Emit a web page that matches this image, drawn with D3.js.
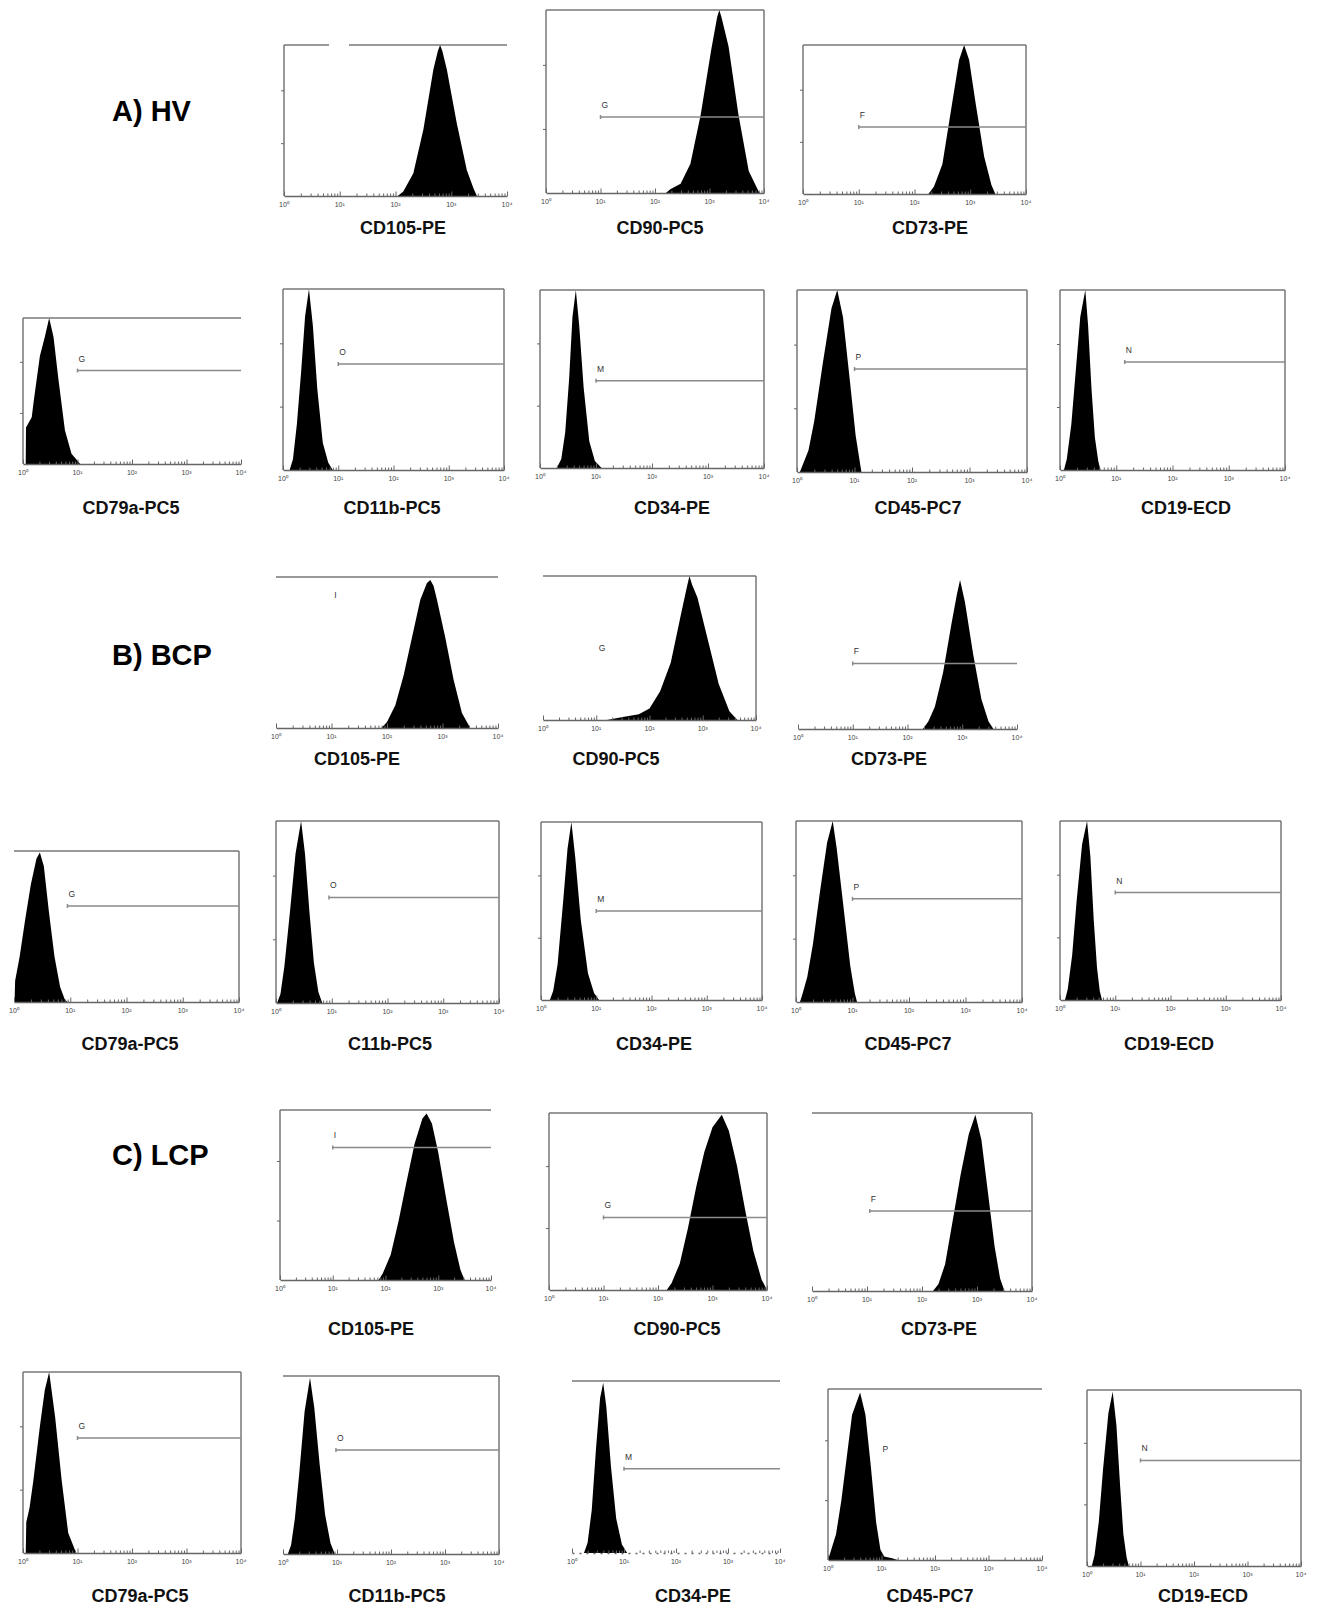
<!DOCTYPE html>
<html lang="en">
<head>
<meta charset="UTF-8">
<title>MSC immunophenotype histograms</title>
<script src="https://d3js.org/d3.v7.min.js"></script>
<style>
  body { margin: 0; background: #fff; }
  svg { display: block; }
  text { font-family: "Liberation Sans", Arial, sans-serif; }
  .title { font-size: 18px; font-weight: bold; fill: #111; }
  .group { font-size: 29px; font-weight: bold; fill: #000; }
  .tick-label { font-size: 7px; fill: #444; }
  .gate-label { font-size: 8.5px; fill: #333; }
  .frame { stroke: #777; stroke-width: 1.5; fill: none; }
  .gate { stroke: #8a8a8a; stroke-width: 1.5; }
  .hist { fill: #000; }
  .axis path, .axis line { stroke: #666; }
</style>
</head>
<body>
<svg width="1317" height="1608"></svg>
<script>
// ---- data ----
const groups = ["A) HV", "B) BCP", "C) LCP"];

const markers = [
  "CD105-PE", "CD90-PC5", "CD73-PE",
  "CD79a-PC5", "CD11b-PC5", "CD34-PE", "CD45-PC7", "CD19-ECD",
  "CD105-PE", "CD90-PC5", "CD73-PE",
  "CD79a-PC5", "C11b-PC5", "CD34-PE", "CD45-PC7", "CD19-ECD",
  "CD105-PE", "CD90-PC5", "CD73-PE",
  "CD79a-PC5", "CD11b-PC5", "CD34-PE", "CD45-PC7", "CD19-ECD"
];

// gate name, start (log10 of fluorescence), level (fraction of count axis), line drawn?
const gateLabels = ["", "G", "F", "G", "O", "M", "P", "N",
                    "I", "G", "F", "G", "O", "M", "P", "N",
                    "I", "G", "F", "G", "O", "M", "P", "N"];
const gateStart  = [1, 1, 1, 1, 1, 1, 1, 1.15,
                    1.03, 1.03, 1, 0.95, 0.95, 1, 1, 1,
                    1, 1, 1.05, 1, 0.98, 1, 1, 1];
const gateLevel  = [0, 0.415, 0.45, 0.64, 0.585, 0.49, 0.566, 0.6,
                    0.8, 0.42, 0.44, 0.636, 0.58, 0.5, 0.57, 0.6,
                    0.78, 0.41, 0.45, 0.635, 0.584, 0.49, 0.58, 0.6];
const gateDrawn  = [false, true, true, true, true, true, true, true,
                    false, false, true, true, true, true, true, true,
                    true, true, true, true, true, true, false, true];

// histogram outlines: [log10 fluorescence, relative count]
const histograms = [
  [[2.04,0],[2.14,0.03],[2.32,0.15],[2.5,0.44],[2.68,0.84],[2.76,0.96],[2.8,1],[2.84,0.96],[2.92,0.84],[3.1,0.48],[3.28,0.17],[3.4,0.05],[3.46,0]],
  [[2.2,0],[2.28,0.02],[2.47,0.05],[2.65,0.16],[2.84,0.43],[3.03,0.78],[3.14,0.96],[3.18,1],[3.22,0.96],[3.35,0.8],[3.53,0.43],[3.72,0.12],[3.9,0.01],[3.93,0]],
  [[2.25,0],[2.35,0.05],[2.5,0.2],[2.65,0.55],[2.8,0.9],[2.89,1],[2.98,0.9],[3.1,0.6],[3.25,0.25],[3.38,0.06],[3.45,0]],
  [[0.05,0],[0.055,0.25],[0.16,0.32],[0.2,0.44],[0.31,0.74],[0.4,0.87],[0.48,1],[0.56,0.87],[0.65,0.58],[0.77,0.23],[0.89,0.07],[1.05,0]],
  [[0.12,0],[0.18,0.06],[0.25,0.25],[0.33,0.55],[0.4,0.85],[0.47,1],[0.54,0.8],[0.62,0.45],[0.72,0.15],[0.82,0.04],[0.9,0]],
  [[0.3,0],[0.38,0.05],[0.45,0.2],[0.52,0.5],[0.58,0.85],[0.64,1],[0.7,0.8],[0.78,0.45],[0.88,0.15],[0.98,0.04],[1.1,0]],
  [[0.05,0],[0.1,0.04],[0.2,0.12],[0.3,0.28],[0.45,0.6],[0.6,0.9],[0.7,1],[0.8,0.85],[0.92,0.5],[1.02,0.2],[1.1,0.04],[1.12,0]],
  [[0.07,0],[0.12,0.06],[0.2,0.25],[0.28,0.55],[0.36,0.85],[0.45,1],[0.5,0.8],[0.56,0.45],[0.62,0.18],[0.68,0.05],[0.72,0]],
  [[1.9,0],[2.0,0.04],[2.15,0.15],[2.3,0.35],[2.45,0.6],[2.6,0.85],[2.72,0.96],[2.78,0.98],[2.84,0.94],[2.9,0.85],[3.05,0.6],[3.2,0.32],[3.35,0.1],[3.5,0]],
  [[1.2,0],[1.5,0.02],[1.8,0.04],[2.0,0.08],[2.2,0.2],[2.4,0.4],[2.6,0.75],[2.7,0.92],[2.75,1],[2.8,0.94],[2.9,0.85],[3.1,0.55],[3.3,0.25],[3.5,0.06],[3.65,0]],
  [[2.28,0],[2.38,0.05],[2.5,0.15],[2.65,0.38],[2.8,0.7],[2.9,0.9],[2.96,1],[3.05,0.85],[3.2,0.5],[3.35,0.2],[3.48,0.05],[3.57,0]],
  [[0.01,0],[0.02,0.14],[0.1,0.3],[0.2,0.55],[0.3,0.78],[0.4,0.95],[0.46,0.99],[0.53,0.9],[0.62,0.6],[0.72,0.3],[0.82,0.1],[0.9,0.02],[0.95,0]],
  [[0.02,0],[0.08,0.05],[0.15,0.2],[0.25,0.5],[0.35,0.82],[0.45,1],[0.52,0.82],[0.6,0.5],[0.68,0.22],[0.76,0.06],[0.83,0]],
  [[0.16,0],[0.22,0.05],[0.3,0.2],[0.4,0.55],[0.48,0.85],[0.55,1],[0.62,0.8],[0.72,0.45],[0.85,0.15],[0.96,0.04],[1.05,0]],
  [[0.07,0],[0.12,0.05],[0.2,0.14],[0.3,0.32],[0.42,0.6],[0.55,0.88],[0.65,1],[0.72,0.85],[0.85,0.5],[0.96,0.2],[1.04,0.05],[1.08,0]],
  [[0.09,0],[0.14,0.06],[0.22,0.25],[0.3,0.55],[0.4,0.87],[0.49,1],[0.55,0.8],[0.61,0.45],[0.67,0.18],[0.72,0.05],[0.76,0]],
  [[1.87,0],[1.95,0.04],[2.1,0.15],[2.25,0.35],[2.4,0.58],[2.55,0.8],[2.7,0.95],[2.78,0.98],[2.88,0.92],[3.0,0.75],[3.15,0.48],[3.3,0.22],[3.42,0.06],[3.5,0]],
  [[2.16,0],[2.25,0.04],[2.4,0.15],[2.55,0.35],[2.7,0.58],[2.85,0.78],[3.0,0.92],[3.17,0.99],[3.3,0.9],[3.45,0.7],[3.6,0.45],[3.75,0.22],[3.9,0.06],[4.0,0]],
  [[2.2,0],[2.3,0.04],[2.42,0.15],[2.55,0.38],[2.7,0.65],[2.85,0.88],[2.97,0.99],[3.08,0.85],[3.2,0.55],[3.32,0.25],[3.42,0.07],[3.5,0]],
  [[0.05,0],[0.06,0.17],[0.12,0.25],[0.19,0.4],[0.31,0.7],[0.4,0.9],[0.48,1],[0.59,0.75],[0.71,0.4],[0.83,0.11],[0.95,0.02],[0.98,0]],
  [[0.09,0],[0.15,0.05],[0.22,0.2],[0.3,0.45],[0.4,0.8],[0.5,0.99],[0.58,0.82],[0.68,0.5],[0.78,0.22],[0.88,0.06],[0.96,0]],
  [[0.23,0],[0.3,0.06],[0.38,0.25],[0.46,0.6],[0.54,0.9],[0.6,0.99],[0.66,0.85],[0.75,0.5],[0.85,0.2],[0.96,0.05],[1.06,0]],
  [[0.0,0],[0.05,0.05],[0.15,0.15],[0.25,0.35],[0.35,0.6],[0.45,0.85],[0.6,0.98],[0.7,0.85],[0.8,0.55],[0.9,0.22],[0.98,0.06],[1.05,0.02],[1.2,0.01],[1.3,0]],
  [[0.09,0],[0.14,0.06],[0.22,0.25],[0.3,0.55],[0.4,0.87],[0.48,0.99],[0.55,0.8],[0.62,0.45],[0.68,0.18],[0.74,0.05],[0.78,0]]
];

const decades = [1, 10, 100, 1000, 10000];
const decadeLabels = ["10\u2070", "10\u00B9", "10\u00B2", "10\u00B3", "10\u2074"];

// ---- layout (pixels) ----
// x0/x4: where 10^0 and 10^4 sit; t/b: top of count axis and baseline; sides: drawn frame edges
const frames = [
  {x0: 284, x4: 507, t: 45,   b: 196,  sides: "tl",  tx: 403,  ty: 234, gap: [329, 349]},
  {x0: 546, x4: 764, t: 10,   b: 193,  sides: "tlr", tx: 660,  ty: 234},
  {x0: 803, x4: 1026, t: 45,  b: 194,  sides: "tlr", tx: 930,  ty: 234},
  {x0: 23,  x4: 241, t: 318,  b: 464,  sides: "tl",  tx: 131,  ty: 514},
  {x0: 283, x4: 504, t: 289,  b: 470,  sides: "tlr", tx: 392,  ty: 514},
  {x0: 540, x4: 764, t: 290,  b: 468,  sides: "tlr", tx: 672,  ty: 514},
  {x0: 797, x4: 1027, t: 290, b: 472,  sides: "tlr", tx: 918,  ty: 514},
  {x0: 1060, x4: 1285, t: 290, b: 470, sides: "tlr", tx: 1186, ty: 514},
  {x0: 276, x4: 498, t: 577,  b: 728,  sides: "t",   tx: 357,  ty: 765},
  {x0: 543, x4: 756, t: 576,  b: 720,  sides: "tr",  tx: 616,  ty: 765},
  {x0: 798, x4: 1017, t: 580, b: 729,  sides: "",    tx: 889,  ty: 765},
  {x0: 14,  x4: 239, t: 851,  b: 1002, sides: "tr",  tx: 130,  ty: 1050},
  {x0: 276, x4: 499, t: 821,  b: 1003, sides: "tlr", tx: 390,  ty: 1050},
  {x0: 541, x4: 762, t: 822,  b: 1000, sides: "tlr", tx: 654,  ty: 1050},
  {x0: 796, x4: 1022, t: 821, b: 1002, sides: "tlr", tx: 908,  ty: 1050},
  {x0: 1060, x4: 1281, t: 821, b: 1000, sides: "tlr", tx: 1169, ty: 1050},
  {x0: 280, x4: 491, t: 1110, b: 1280, sides: "tl",  tx: 371,  ty: 1335},
  {x0: 549, x4: 767, t: 1113, b: 1290, sides: "tlr", tx: 677,  ty: 1335},
  {x0: 812, x4: 1032, t: 1113, b: 1291, sides: "tr", tx: 939,  ty: 1335},
  {x0: 23,  x4: 241, t: 1372, b: 1553, sides: "tlr", tx: 140,  ty: 1602},
  {x0: 283, x4: 499, t: 1376, b: 1554, sides: "tr",  tx: 397,  ty: 1602},
  {x0: 572, x4: 780, t: 1381, b: 1553, sides: "t",   tx: 693,  ty: 1602, dotted: true},
  {x0: 828, x4: 1042, t: 1389, b: 1560, sides: "tl", tx: 930,  ty: 1602},
  {x0: 1087, x4: 1301, t: 1390, b: 1566, sides: "tlr", tx: 1203, ty: 1602}
];
const groupPos = [[112, 121], [112, 665], [112, 1165]];

const svg = d3.select("svg");

svg.selectAll(".group")
  .data(groups)
  .enter().append("text")
  .attr("class", "group")
  .attr("x", (d, i) => groupPos[i][0])
  .attr("y", (d, i) => groupPos[i][1])
  .text(d => d);

// minor ticks 1..9 per decade
const minorTicks = [];
for (let k = 0; k < 4; k++) for (let m = 1; m < 10; m++) minorTicks.push(m * Math.pow(10, k));
minorTicks.push(10000);

frames.forEach((f, i) => {
  const g = svg.append("g");
  const x = d3.scaleLog().domain([1, 1e4]).range([f.x0, f.x4]);
  const y = d3.scaleLinear().domain([0, 1]).range([f.b, f.t]);

  // histogram
  const area = d3.area()
    .x(d => x(Math.pow(10, d[0])))
    .y0(y(0))
    .y1(d => y(d[1]))
    .curve(d3.curveLinear);
  g.append("path").datum(histograms[i]).attr("class", "hist").attr("d", area);

  // frame edges
  if (f.sides.includes("t")) {
    const segs = f.gap ? [[f.x0, f.gap[0]], [f.gap[1], f.x4]] : [[f.x0, f.x4]];
    segs.forEach(s => g.append("line").attr("class", "frame")
      .attr("x1", s[0]).attr("x2", s[1]).attr("y1", y(1)).attr("y2", y(1)));
  }
  if (f.sides.includes("l")) {
    g.append("line").attr("class", "frame")
      .attr("x1", f.x0).attr("x2", f.x0).attr("y1", y(1)).attr("y2", y(0));
    const yAxis = d3.axisLeft(y).tickValues([0.35, 0.7]).tickSize(3).tickFormat("");
    const ya = g.append("g").attr("class", "axis").attr("transform", `translate(${f.x0},0)`).call(yAxis);
    ya.select(".domain").remove();
  }
  if (f.sides.includes("r")) {
    g.append("line").attr("class", "frame")
      .attr("x1", f.x4).attr("x2", f.x4).attr("y1", y(1)).attr("y2", y(0));
  }

  // log x axis with little inward ticks
  const xAxis = d3.axisBottom(x).tickValues(minorTicks).tickSize(-2.5).tickSizeOuter(0).tickFormat("");
  const xa = g.append("g").attr("class", "axis").attr("transform", `translate(0,${f.b})`).call(xAxis);
  xa.select(".domain").attr("stroke-width", 1.3)
    .attr("stroke-dasharray", f.dotted ? "2,5" : null);
  xa.selectAll(".tick line").filter(d => decades.includes(d)).attr("y2", -4.5);

  g.selectAll(".tick-label")
    .data(decades)
    .enter().append("text")
    .attr("class", "tick-label")
    .attr("text-anchor", "middle")
    .attr("x", d => x(d))
    .attr("y", f.b + 11)
    .text((d, j) => decadeLabels[j]);

  // marker gate
  if (gateLabels[i]) {
    const gx = x(Math.pow(10, gateStart[i]));
    const gy = y(gateLevel[i]);
    if (gateDrawn[i]) {
      g.append("line").attr("class", "gate")
        .attr("x1", gx).attr("x2", f.x4).attr("y1", gy).attr("y2", gy);
      g.append("line").attr("class", "gate")
        .attr("x1", gx).attr("x2", gx).attr("y1", gy - 2).attr("y2", gy + 2);
    }
    g.append("text").attr("class", "gate-label")
      .attr("x", gx + 1).attr("y", gy - 9)
      .text(gateLabels[i]);
  }

  g.append("text").attr("class", "title")
    .attr("text-anchor", "middle")
    .attr("x", f.tx).attr("y", f.ty)
    .text(markers[i]);
});
</script>
</body>
</html>
